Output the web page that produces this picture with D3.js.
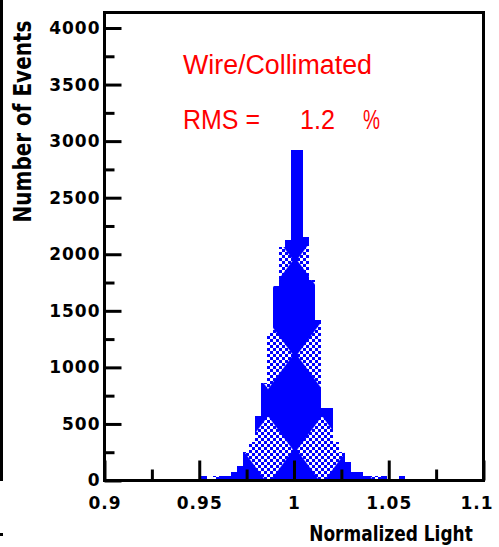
<!DOCTYPE html>
<html><head><meta charset="utf-8">
<script src="https://cdn.jsdelivr.net/npm/d3@7"></script>
<style>
html,body{margin:0;padding:0;background:#fff;}
svg{display:block;}
</style></head>
<body>
<script>
// ---- data ----
const binStart = 0.9507;          // lower edge of first bin
const binWidth = 0.003166;        // bin width
const counts = [40, 0, 42, 42, 42, 78, 131, 255, 343, 570, 865, 1301, 1722, 2067, 2126, 2922, 2922,
                2156, 1773, 1419, 641, 641, 343, 255, 164, 75, 75, 40, 40, 40, 40, 0, 0, 40];
const xMajorTicks = [0.9, 0.95, 1, 1.05, 1.1];
const xTickLabels = ["0.9", "0.95", "1", "1.05", "1.1"];
const xMinorTicks = [0.925, 0.975, 1.025, 1.075];
const yMajorTicks = [0, 500, 1000, 1500, 2000, 2500, 3000, 3500, 4000];
const yMinorTicks = [250, 750, 1250, 1750, 2250, 2750, 3250, 3750];
const xDomain = [0.9, 1.1];
const yDomain = [0, 4137];
const title1 = "Wire/Collimated";
const rmsLabel = "RMS =", rmsValue = "1.2", rmsUnit = "%";
const xTitle = "Normalized Light", yTitle = "Number of Events";

const W = 499, H = 547;
const L = 104.5, R = 483.5, T = 12.5, B = 480.5;
const x = d3.scaleLinear(xDomain, [L, R]);
const y = d3.scaleLinear(yDomain, [B, T]);

const svg = d3.select("body").append("svg").attr("width", W).attr("height", H);
const defs = svg.append("defs");

// checker hatch
const chk = defs.append("pattern").attr("id", "chk").attr("patternUnits", "userSpaceOnUse")
  .attr("x", 0).attr("y", 0).attr("width", 6).attr("height", 6);
chk.append("rect").attr("x", 0).attr("y", 0).attr("width", 3).attr("height", 3).attr("fill", "#fff");
chk.append("rect").attr("x", 3).attr("y", 3).attr("width", 3).attr("height", 3).attr("fill", "#fff");

// diamond moire lattice (only in lower part of the histogram)
const dw = 54, dh = 95;
const dia = defs.append("pattern").attr("id", "dia").attr("patternUnits", "userSpaceOnUse")
  .attr("x", 268 - dw / 2).attr("y", 450 - dh / 2).attr("width", dw).attr("height", dh);
dia.append("polygon").attr("fill", "#fff")
  .attr("points", `${dw/2},${dh/2-34} ${dw/2+25},${dh/2} ${dw/2},${dh/2+34} ${dw/2-25},${dh/2}`);
const mask = defs.append("mask").attr("id", "dm").attr("maskUnits", "userSpaceOnUse")
  .attr("x", 0).attr("y", 0).attr("width", W).attr("height", H);
mask.append("rect").attr("x", 0).attr("y", y(2150)).attr("width", W).attr("height", H - y(2150)).attr("fill", "url(#dia)");

// left border of the picture
svg.append("rect").attr("x", 0).attr("y", 0).attr("width", 3).attr("height", 481).attr("fill", "#000");
svg.append("rect").attr("x", 0).attr("y", 533).attr("width", 3).attr("height", 3).attr("fill", "#000");

const bins = counts.map((c, i) => ({x0: binStart + i * binWidth, x1: binStart + (i + 1) * binWidth, c}));
const px0 = d => Math.round(x(d.x0)), px1 = d => Math.round(x(d.x1));

function drawBars(g, fill) {
  g.selectAll("rect").data(bins.filter(d => d.c > 0)).join("rect")
    .attr("x", px0).attr("width", d => px1(d) - px0(d))
    .attr("y", d => Math.round(y(d.c))).attr("height", d => Math.round(y(0)) - Math.round(y(d.c)))
    .attr("fill", fill);
}
drawBars(svg.append("g").attr("shape-rendering", "crispEdges"), "#0000ff");
drawBars(svg.append("g").attr("shape-rendering", "crispEdges").attr("mask", "url(#dm)"), "url(#chk)");

// frame
svg.append("rect").attr("x", L).attr("y", T).attr("width", R - L).attr("height", B - T)
  .attr("fill", "none").attr("stroke", "#000").attr("stroke-width", 3);

const font = "'DejaVu Sans', sans-serif";
function styleAxis(g) {
  g.select(".domain").remove();
  g.selectAll(".tick line").attr("stroke", "#000").attr("stroke-width", 3);
  g.selectAll("text").attr("font-family", font).attr("font-weight", "bold")
    .attr("font-size", 17).attr("fill", "#000").attr("letter-spacing", 1);
}
// y axis
svg.append("g").attr("transform", `translate(${L},0)`)
  .call(d3.axisLeft(y).tickValues(yMajorTicks).tickSize(-17).tickPadding(4).tickFormat(d3.format("d")))
  .call(styleAxis);
svg.append("g").attr("transform", `translate(${L},0)`)
  .call(d3.axisLeft(y).tickValues(yMinorTicks).tickSize(-10).tickFormat(""))
  .call(styleAxis);
// x axis
svg.append("g").attr("transform", `translate(0,${B})`)
  .call(d3.axisTop(x).tickValues(xMajorTicks).tickSize(20).tickFormat((d, i) => xTickLabels[i]))
  .call(g => {
    styleAxis(g);
    g.selectAll("text").attr("y", 28).attr("dy", 0)
      .attr("dx", d => d === 1.1 ? -7 : 0);
  });
svg.append("g").attr("transform", `translate(0,${B})`)
  .call(d3.axisTop(x).tickValues(xMinorTicks).tickSize(11).tickFormat(""))
  .call(styleAxis);

// axis titles
svg.append("text").attr("transform", `translate(31,${121.5}) rotate(-90) scale(1,1.2)`)
  .attr("text-anchor", "middle").attr("font-family", font).attr("font-weight", "bold")
  .attr("font-size", 20).text(yTitle);
svg.append("text").attr("transform", "translate(391,541) scale(1,1.2)")
  .attr("text-anchor", "middle").attr("font-family", font).attr("font-weight", "bold")
  .attr("font-size", 17).text(xTitle);

// red annotations
const rf = "'Liberation Sans', Arial, sans-serif";
svg.append("text").attr("x", 183).attr("y", 74).attr("font-family", rf).attr("font-size", 27)
  .attr("fill", "#ff0000").attr("textLength", 189).attr("lengthAdjust", "spacingAndGlyphs").text(title1);
svg.append("text").attr("x", 183).attr("y", 129).attr("font-family", rf).attr("font-size", 28)
  .attr("fill", "#ff0000").attr("textLength", 77).attr("lengthAdjust", "spacingAndGlyphs").text(rmsLabel);
svg.append("text").attr("x", 300).attr("y", 129).attr("font-family", rf).attr("font-size", 28)
  .attr("fill", "#ff0000").attr("textLength", 35).attr("lengthAdjust", "spacingAndGlyphs").text(rmsValue);
svg.append("text").attr("x", 363).attr("y", 129).attr("font-family", rf).attr("font-size", 28)
  .attr("fill", "#ff0000").attr("textLength", 17).attr("lengthAdjust", "spacingAndGlyphs").text(rmsUnit);
</script>
</body></html>
